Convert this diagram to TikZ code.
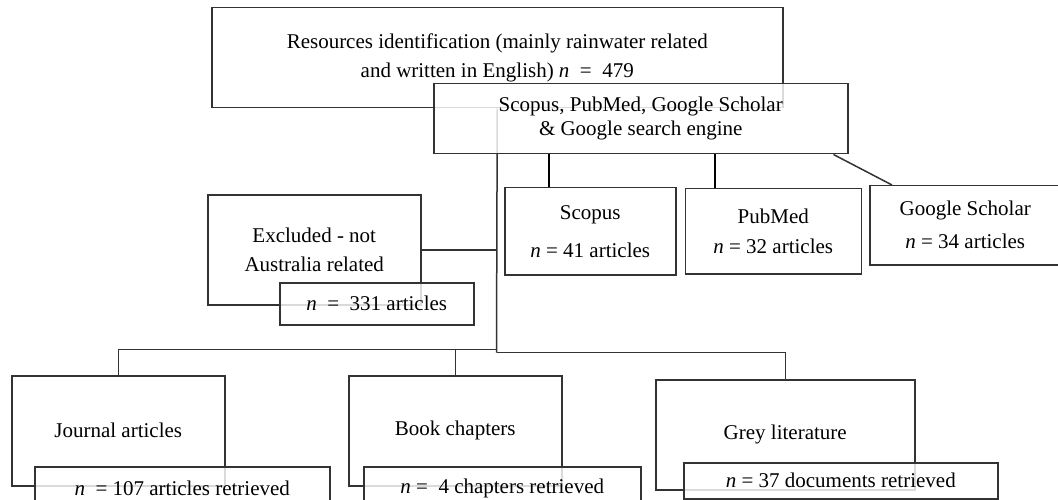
\documentclass[tikz,border=0pt]{standalone}
\usepackage{fontspec}
\setmainfont{Liberation Serif}
\usetikzlibrary{positioning}

\begin{document}
\begin{tikzpicture}[x=1pt, y=-1pt,
    box/.style={draw=black!80, line width=1.5pt, fill=white, fill opacity=0.82,
        text opacity=1, align=center, anchor=north west, inner sep=0pt,
        font=\fontsize{21}{24}\selectfont},
    link/.style={draw=black!80, line width=1.5pt},
    stub/.style={draw=black, line width=2pt}]
    \clip (0,0) rectangle (1058,500);
    % search stage
    \node [box, minimum width=571pt, minimum height=100pt] (res) at (211,7)
        {Resources identification (mainly rainwater related\\[5pt]
         and written in English) \textit{n} \ = \ 479};
    \coordinate (hub) at (496.5,352.5);
    \coordinate (fork) at (496.5,349.5);
    \draw [link] (res.south) -- (hub);
    \node [box, minimum width=414pt, minimum height=70pt] (srch) at (433,83)
        {Scopus, PubMed, Google Scholar\\ \& Google search engine};
    % databases
    \node [box, minimum width=171pt, minimum height=87pt] (sco) at (504,187)
        {Scopus\\[14pt] \textit{n} = 41 articles};
    \node [box, minimum width=176pt, minimum height=85pt, right=8pt of sco] (pub)
        {PubMed\\[6pt] \textit{n} = 32 articles};
    \node [box, minimum width=191pt, minimum height=79pt, right=7pt of pub, yshift=6pt] (gsch)
        {Google Scholar\\[9pt] \textit{n} = 34 articles};
    \path ([xshift=45pt]sco.north west) coordinate (s1);
    \path ([xshift=30pt]pub.north west) coordinate (p1);
    \draw [stub] (s1) -- (s1 |- srch.south);
    \draw [stub] (p1) -- (p1 |- srch.south);
    \draw [link] ([xshift=-15pt]srch.south east) -- ([xshift=23pt]gsch.north west);
    % excluded
    \node [box, minimum width=213pt, minimum height=110pt] (excl) at (207,194)
        {Excluded - not\\[5pt] Australia related};
    \draw [link] (excl.east) -- (excl.east -| hub);
    \node [box, minimum width=194pt, minimum height=42pt] (exn) at (279,282)
        {\textit{n} \ = \ 331 articles};
    % retrieved
    \node [box, minimum width=213pt, minimum height=110pt] (jour) at (11,375) {Journal articles};
    \draw [link] (fork) -| (jour.north);
    \node [box, minimum width=295pt, minimum height=44pt] (jn) at (34,466)
        {\textit{n} \ = 107 articles retrieved};
    \node [box, minimum width=213pt, minimum height=110pt] (book) at (348,375) {Book chapters};
    \draw [link] (book.north) -- (book.north |- fork);
    \node [box, minimum width=277pt, minimum height=44pt] (bn) at (363,466)
        {\textit{n} = \ 4 chapters retrieved};
    \node [box, minimum width=259pt, minimum height=110pt] (grey) at (655,379) {Grey literature};
    \draw [link] (hub) -| (grey.north);
    \node [box, minimum width=314pt, minimum height=36pt] (gn) at (683,462)
        {\textit{n} = 37 documents retrieved};
\end{tikzpicture}
\end{document}
